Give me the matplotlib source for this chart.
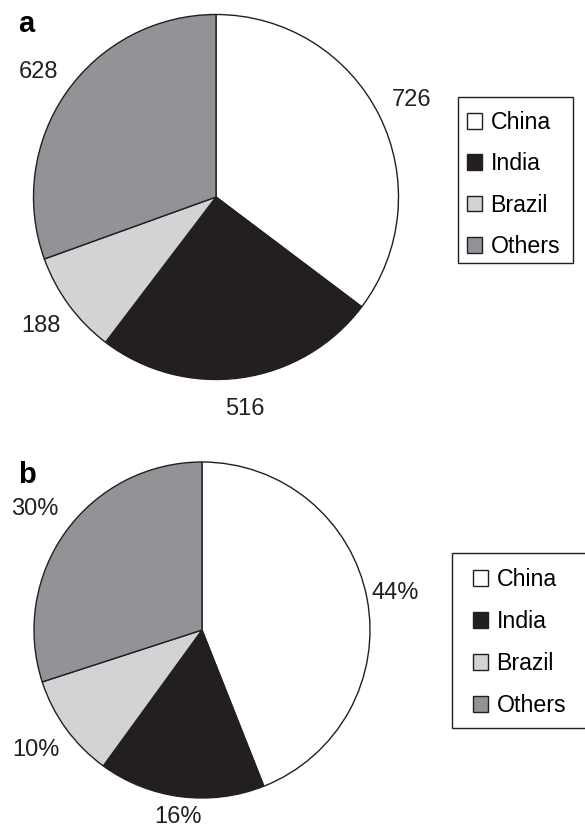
import numpy as np
import matplotlib
matplotlib.use("Agg")
import matplotlib.pyplot as plt
from matplotlib.patches import Rectangle

plt.rcParams['font.family'] = ['Liberation Sans', 'DejaVu Sans']

countries = ['China', 'India', 'Brazil', 'Others']
colors = ['#ffffff', '#231f20', '#d1d3d4', '#929396']
values_a = [726, 516, 188, 628]
share_b = [44, 16, 10, 30]

# radial distance of each value label, in pie radii
label_r_a = [1.195, 1.17, 1.19, 1.19]
label_r_b = [1.17, 1.12, 1.22, 1.23]

W, H = 585, 831
fig = plt.figure(figsize=(W / 100, H / 100), dpi=100)
fig.patch.set_facecolor('white')


def px_axes(cx, cy, r):
    # square axes in pixel terms, pie of radius 1 fills it
    return fig.add_axes([(cx - r) / W, 1 - (cy + r) / H, 2 * r / W, 2 * r / H])


def draw_pie(ax, vals, labels, dists):
    wedges, texts = ax.pie(vals, labels=labels, colors=colors, startangle=90,
                           counterclock=False,
                           wedgeprops=dict(edgecolor='#231f20', linewidth=1.0),
                           textprops=dict(fontsize=17, color='#231f20'))
    for w, t, d in zip(wedges, texts, dists):
        mid = np.deg2rad((w.theta1 + w.theta2) / 2)
        t.set_position((d * np.cos(mid), d * np.sin(mid)))
        t.set_horizontalalignment('center')
        t.set_verticalalignment('center')
    ax.set_xlim(-1, 1)
    ax.set_ylim(-1, 1)
    ax.axis('off')
    return wedges


def draw_legend(handles, box, anchor, spacing):
    x0, y0, x1, y1 = box
    fig.add_artist(Rectangle((x0 / W, 1 - y1 / H), (x1 - x0) / W, (y1 - y0) / H,
                             transform=fig.transFigure, facecolor='white',
                             edgecolor='#231f20', linewidth=1.0))
    fig.legend(handles, countries, loc='upper left',
               bbox_to_anchor=(anchor[0] / W, 1 - anchor[1] / H),
               frameon=False, fontsize=16.7, borderpad=0, borderaxespad=0,
               handlelength=0.65, handleheight=0.65, handletextpad=0.36,
               labelspacing=spacing)


# panel a: absolute counts
ax_a = px_axes(216, 197, 182.5)
wa = draw_pie(ax_a, values_a, [str(v) for v in values_a], label_r_a)
draw_legend(wa, (458, 97, 573, 263), (467, 111), 0.79)
fig.text(18 / W, 1 - 32 / H, 'a', fontsize=21, fontweight='bold',
         ha='left', va='baseline')

# panel b: percentage shares
ax_b = px_axes(202, 630, 168)
wb = draw_pie(ax_b, share_b, [f'{v}%' for v in share_b], label_r_b)
draw_legend(wb, (452, 553, 600, 728), (473, 568), 0.82)
fig.text(18 / W, 1 - 483 / H, 'b', fontsize=21, fontweight='bold',
         ha='left', va='baseline')

fig.savefig('out.png', dpi=100)
